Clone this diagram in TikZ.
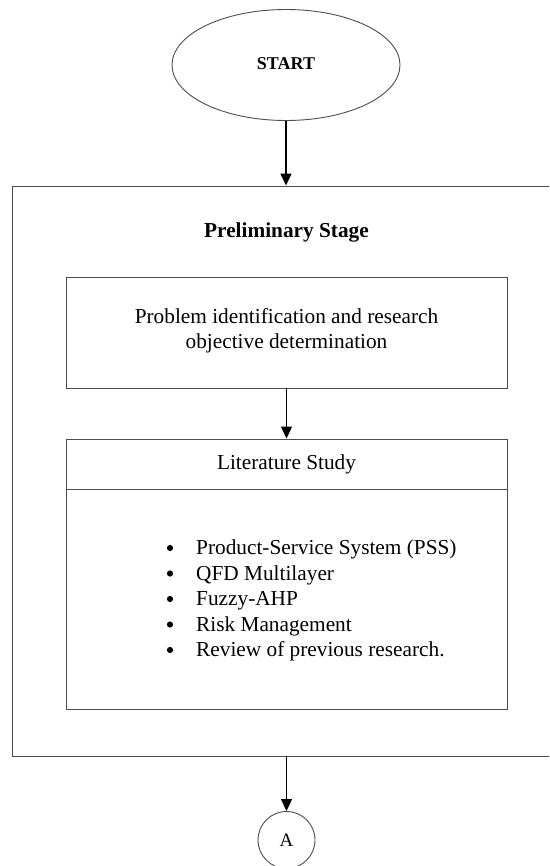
\documentclass[tikz,border=0pt]{standalone}
\usepackage{fontspec}
\setmainfont{Liberation Serif}
\usetikzlibrary{shapes.geometric,arrows.meta}
\begin{document}
\begin{tikzpicture}[x=1pt,y=-1pt,
  frame/.style={draw=black!70,line width=0.9pt,inner sep=0pt},
  flow/.style={draw=black,line width=1.3pt,-{Triangle[length=12pt,width=11pt]}},
  body/.style={font=\fontsize{21.3}{25.5}\selectfont,align=center},
  item/.style={font=\fontsize{21.3}{25.5}\selectfont,anchor=base west,inner sep=0pt},
  dot/.style={fill=black}
]
\useasboundingbox (0,0) rectangle (549,866);
\clip (0,0) rectangle (549,866);
% terminal
\node[frame,ellipse,minimum width=228pt,minimum height=111pt] (start) at (286,65) {};
\node[font=\bfseries\fontsize{18}{20}\selectfont] (starttxt) at (286,64) {START};
% stage frame
\node[frame,rectangle,minimum width=549pt,minimum height=570pt] (stage) at (286.5,471) {};
\node[font=\bfseries\fontsize{21.3}{25}\selectfont] (stagetitle) at (286.5,232) {Preliminary Stage};
% problem box
\node[frame,rectangle,minimum width=441pt,minimum height=111pt] (problem) at (286.5,332.5) {};
\node[body] (problemtxt) at (286.5,331) {Problem identification and research\\objective determination};
% literature box
\node[frame,rectangle,minimum width=441pt,minimum height=270pt] (lit) at (286.5,574) {};
\coordinate (divL) at (66,489);
\coordinate (divR) at (507,489);
\draw[draw=black!70,line width=0.9pt] (divL) -- (divR);
\node[body] (littitle) at (286.5,464) {Literature Study};
% bulleted topics
\foreach \txt [count=\i] in {Product-Service System (PSS),QFD Multilayer,Fuzzy-AHP,Risk Management,Review of previous research.}{
  \node[item] (item\i) at (196,{529+25.5*\i}) {\txt};
  \fill[dot] (170,{522.5+25.5*\i}) circle (3.1pt);
}
% connector
\node[frame,circle,minimum size=57pt] (conA) at (286.5,840) {};
\node[font=\fontsize{19}{23}\selectfont] (conAtxt) at (286.5,840) {A};
% arrows
\draw[flow] (start.south) -- (start.south |- stage.north);
\draw[flow] (problem.south) -- (lit.north);
\draw[flow] (stage.south) -- (conA.north);
\end{tikzpicture}
\end{document}
